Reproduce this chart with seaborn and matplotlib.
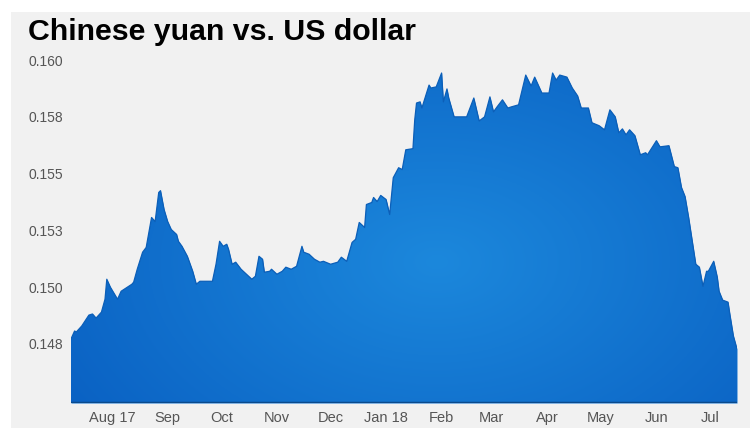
import numpy as np
import pandas as pd
import seaborn as sns
import matplotlib
matplotlib.use("Agg")
import matplotlib.pyplot as plt
from matplotlib.patches import Rectangle
from matplotlib.colors import to_rgb

# yuan per dollar values
dates = [
    "2017-07-09", "2017-07-11", "2017-07-12", "2017-07-15", "2017-07-19", "2017-07-21", "2017-07-23", "2017-07-26",
    "2017-07-28", "2017-07-29", "2017-07-31", "2017-08-04", "2017-08-06", "2017-08-12", "2017-08-13", "2017-08-15",
    "2017-08-18", "2017-08-20", "2017-08-22", "2017-08-23", "2017-08-25", "2017-08-27", "2017-08-28", "2017-08-30",
    "2017-09-01", "2017-09-03", "2017-09-06", "2017-09-07", "2017-09-09", "2017-09-12", "2017-09-15", "2017-09-17",
    "2017-09-19", "2017-09-26", "2017-09-28", "2017-09-30", "2017-10-02", "2017-10-04", "2017-10-05", "2017-10-07",
    "2017-10-09", "2017-10-12", "2017-10-15", "2017-10-18", "2017-10-20", "2017-10-22", "2017-10-24", "2017-10-25",
    "2017-10-28", "2017-10-29", "2017-11-01", "2017-11-04", "2017-11-06", "2017-11-09", "2017-11-12", "2017-11-15",
    "2017-11-16", "2017-11-19", "2017-11-22", "2017-11-25", "2017-11-27", "2017-12-01", "2017-12-05", "2017-12-07",
    "2017-12-10", "2017-12-13", "2017-12-15", "2017-12-17", "2017-12-20", "2017-12-21", "2017-12-24", "2017-12-25",
    "2017-12-27", "2017-12-29", "2018-01-01", "2018-01-03", "2018-01-05", "2018-01-08", "2018-01-10", "2018-01-12",
    "2018-01-16", "2018-01-17", "2018-01-18", "2018-01-20", "2018-01-21", "2018-01-25", "2018-01-26", "2018-01-29",
    "2018-02-01", "2018-02-02", "2018-02-04", "2018-02-05", "2018-02-08", "2018-02-15", "2018-02-19", "2018-02-22",
    "2018-02-25", "2018-02-28", "2018-03-02", "2018-03-04", "2018-03-07", "2018-03-10", "2018-03-12", "2018-03-16",
    "2018-03-18", "2018-03-20", "2018-03-23", "2018-03-25", "2018-03-29", "2018-04-02", "2018-04-04", "2018-04-06",
    "2018-04-08", "2018-04-12", "2018-04-15", "2018-04-18", "2018-04-20", "2018-04-24", "2018-04-26", "2018-04-30",
    "2018-05-03", "2018-05-06", "2018-05-09", "2018-05-11", "2018-05-13", "2018-05-15", "2018-05-17", "2018-05-20",
    "2018-05-23", "2018-05-26", "2018-05-27", "2018-06-01", "2018-06-03", "2018-06-08", "2018-06-11", "2018-06-13",
    "2018-06-15", "2018-06-17", "2018-06-19", "2018-06-23", "2018-06-25", "2018-06-27", "2018-06-29", "2018-06-30",
    "2018-07-03", "2018-07-05", "2018-07-06", "2018-07-08", "2018-07-11", "2018-07-12", "2018-07-14", "2018-07-16",
]
rates = [
    0.14772, 0.14807, 0.14803, 0.14829, 0.14877, 0.14882, 0.14864, 0.14890,
    0.14947, 0.15035, 0.15000, 0.14947, 0.14982, 0.15013, 0.15022, 0.15079,
    0.15154, 0.15175, 0.15263, 0.15307, 0.15289, 0.15417, 0.15425, 0.15342,
    0.15289, 0.15254, 0.15232, 0.15202, 0.15180, 0.15136, 0.15070, 0.15013,
    0.15026, 0.15026, 0.15101, 0.15202, 0.15180, 0.15189, 0.15167, 0.15101,
    0.15110, 0.15079, 0.15057, 0.15035, 0.15048, 0.15136, 0.15123, 0.15066,
    0.15070, 0.15079, 0.15057, 0.15070, 0.15088, 0.15079, 0.15092, 0.15180,
    0.15154, 0.15145, 0.15123, 0.15110, 0.15114, 0.15101, 0.15110, 0.15132,
    0.15114, 0.15197, 0.15211, 0.15285, 0.15263, 0.15364, 0.15373, 0.15395,
    0.15377, 0.15404, 0.15386, 0.15320, 0.15482, 0.15526, 0.15518, 0.15605,
    0.15610, 0.15737, 0.15811, 0.15816, 0.15789, 0.15890, 0.15877, 0.15882,
    0.15943, 0.15816, 0.15873, 0.15833, 0.15750, 0.15750, 0.15833, 0.15732,
    0.15750, 0.15838, 0.15772, 0.15794, 0.15825, 0.15789, 0.15794, 0.15803,
    0.15868, 0.15934, 0.15886, 0.15925, 0.15855, 0.15855, 0.15943, 0.15912,
    0.15934, 0.15925, 0.15877, 0.15842, 0.15789, 0.15789, 0.15724, 0.15711,
    0.15693, 0.15781, 0.15750, 0.15680, 0.15697, 0.15671, 0.15693, 0.15667,
    0.15583, 0.15592, 0.15583, 0.15645, 0.15618, 0.15623, 0.15531, 0.15526,
    0.15439, 0.15399, 0.15307, 0.15101, 0.15088, 0.15004, 0.15070, 0.15070,
    0.15114, 0.15044, 0.14982, 0.14943, 0.14934, 0.14882, 0.14785, 0.14728,
]

month_ticks = ["2017-08-01", "2017-09-01", "2017-10-01", "2017-11-01", "2017-12-01", "2018-01-01",
               "2018-02-01", "2018-03-01", "2018-04-01", "2018-05-01", "2018-06-01", "2018-07-01"]
month_labels = ["Aug 17", "Sep", "Oct", "Nov", "Dec", "Jan 18", "Feb", "Mar", "Apr", "May", "Jun", "Jul"]
y_ticks = [0.1475, 0.15, 0.1525, 0.155, 0.1575, 0.16]
y_labels = ["0.148", "0.150", "0.153", "0.155", "0.158", "0.160"]

df = pd.DataFrame({"date": pd.to_datetime(dates), "rate": rates})

sns.set_style("white")
plt.rcParams["font.family"] = ["Liberation Sans", "DejaVu Sans"]

fig = plt.figure(figsize=(7.5, 4.43), dpi=100)
fig.patch.set_facecolor("white")
# grey card behind the chart
fig.patches.append(Rectangle((11 / 750, 15 / 443), 1 - 11 / 750, 416 / 443, transform=fig.transFigure,
                             facecolor="#f1f1f1", edgecolor="none", zorder=-10))

ax = fig.add_axes([71 / 750, 40 / 443, 666 / 750, 352 / 443])
ax.set_facecolor("none")

ymin, ymax = 0.14490, 0.16040
poly = ax.fill_between(df["date"], df["rate"], ymin, color="#1474d2", lw=0, zorder=1)

# radial gradient inside the area
yy, xx = np.mgrid[0:1:200j, 0:1:400j]
r = np.clip(np.sqrt(((xx - 0.55) / 0.65) ** 2 + ((yy - 0.4) / 0.8) ** 2), 0, 1)
c0 = np.array(to_rgb("#1c88dc"))
c1 = np.array(to_rgb("#0a61c3"))
img = c0 * (1 - r[..., None]) + c1 * r[..., None]
im = ax.imshow(img, extent=[0, 1, 0, 1], transform=ax.transAxes, aspect="auto", origin="lower", zorder=2)
im.set_clip_path(poly.get_paths()[0], ax.transData)

sns.lineplot(data=df, x="date", y="rate", ax=ax, color="#0c5fb8", lw=0.9, zorder=3)
ax.axhline(ymin, color="#0a4a8c", lw=2.5, zorder=4)

ax.set_xlim(df["date"].iloc[0], df["date"].iloc[-1])
ax.set_ylim(ymin, ymax)
ax.set_xticks(pd.to_datetime(month_ticks), month_labels)
ax.set_yticks(y_ticks, y_labels)
ax.set_xlabel("")
ax.set_ylabel("")
ax.tick_params(axis="x", length=0, pad=6, labelsize=10.5, labelcolor="#555555")
ax.tick_params(axis="y", length=3, width=0.6, color="#cfcfcf", pad=3, labelsize=10, labelcolor="#555555")
for s in ax.spines.values():
    s.set_visible(False)

fig.text(28 / 750, 1 - 32 / 443, "Chinese yuan vs. US dollar", fontsize=21.8, fontweight="bold",
         color="black", ha="left", va="center")

fig.savefig("out.png", dpi=100, facecolor=fig.get_facecolor())
